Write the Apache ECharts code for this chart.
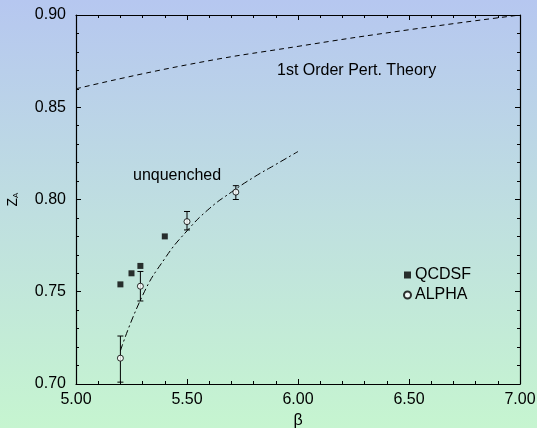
<!DOCTYPE html>
<html>
<head>
<meta charset="utf-8">
<script src="https://cdn.jsdelivr.net/npm/echarts@6/dist/echarts.min.js"></script>
<style>
  html, body { margin: 0; padding: 0; }
  #chart { width: 537px; height: 428px; }
</style>
</head>
<body>
<div id="chart"></div>
<script>
// data
const qcdsfBeta = [5.20, 5.25, 5.29, 5.40];
const qcdsfZ = [0.754, 0.760, 0.764, 0.780];

const alphaBeta = [5.20, 5.29, 5.50, 5.72];
const alphaZ = [0.714, 0.753, 0.788, 0.804];
const alphaLo = [0.701, 0.745, 0.7835, 0.800];
const alphaHi = [0.726, 0.761, 0.7935, 0.8075];

const pertBeta = [5.0, 5.5, 6.0, 6.5, 7.0];
const pertZ = [0.860, 0.873, 0.883, 0.892, 0.900];

const unqBeta = [5.2, 5.3, 5.4, 5.5, 5.6, 5.7, 5.8, 5.9, 6.0];
const unqZ = [0.718, 0.748, 0.768, 0.783, 0.795, 0.804, 0.812, 0.819, 0.826];

const zip = (a, b) => a.map((v, i) => [v, b[i]]);

const chart = echarts.init(document.getElementById('chart'));

const font = 'Liberation Sans, Arial, sans-serif';
const fs = 16;
const axisLine = { show: true, onZero: false, lineStyle: { color: '#000', width: 1.2 } };

const xBase = {
  type: 'value', min: 5, max: 7, interval: 0.5,
  axisLine: axisLine,
  axisTick: { inside: true, length: 5, lineStyle: { color: '#000' } },
  minorTick: { show: true, splitNumber: 5, length: 3, lineStyle: { color: '#000' } },
  splitLine: { show: false }
};
const yBase = {
  type: 'value', min: 0.70, max: 0.90, interval: 0.05,
  axisLine: axisLine,
  axisTick: { inside: true, length: 5, lineStyle: { color: '#000' } },
  minorTick: { show: true, splitNumber: 5, length: 3, lineStyle: { color: '#000' } },
  splitLine: { show: false }
};

function errorBar(params, api) {
  const x = api.value(0);
  const lo = api.coord([x, api.value(1)]);
  const hi = api.coord([x, api.value(2)]);
  const w = 3;
  const style = { stroke: '#000', lineWidth: 1 };
  return {
    type: 'group',
    children: [
      { type: 'line', shape: { x1: lo[0], y1: lo[1], x2: hi[0], y2: hi[1] }, style: style },
      { type: 'line', shape: { x1: lo[0] - w, y1: lo[1], x2: lo[0] + w, y2: lo[1] }, style: style },
      { type: 'line', shape: { x1: hi[0] - w, y1: hi[1], x2: hi[0] + w, y2: hi[1] }, style: style }
    ]
  };
}

chart.setOption({
  backgroundColor: new echarts.graphic.LinearGradient(0, 0, 0, 1, [
    { offset: 0, color: '#b6c7f0' },
    { offset: 0.5, color: '#bfdfe0' },
    { offset: 1, color: '#c6f5d0' }
  ]),
  animation: false,
  textStyle: { fontFamily: font },
  grid: { left: 76, right: 17, top: 15, bottom: 44, outerBoundsMode: 'none', containLabel: false },
  legend: {
    orient: 'vertical', left: 398, top: 262, itemGap: 4,
    itemWidth: 7, itemHeight: 7,
    textStyle: { fontSize: fs, color: '#000', fontFamily: font, padding: [0, 0, 0, -1] },
    data: [
      { name: 'QCDSF', icon: 'rect' },
      { name: 'ALPHA', icon: 'circle' }
    ]
  },
  xAxis: [
    Object.assign({}, xBase, {
      position: 'bottom',
      name: 'β', nameLocation: 'middle', nameGap: 29,
      nameTextStyle: { fontSize: fs, color: '#000', fontFamily: font },
      axisLabel: { fontSize: fs, color: '#000', margin: 8, formatter: v => v.toFixed(2), fontFamily: font }
    }),
    Object.assign({}, xBase, { position: 'top', axisLabel: { show: false } })
  ],
  yAxis: [
    Object.assign({}, yBase, {
      position: 'left',
      name: '{z|Z}{a|A}', nameLocation: 'middle', nameGap: 56,
      nameTextStyle: { rich: { z: { fontSize: 14, color: '#000', fontFamily: font }, a: { fontSize: 8, color: '#000', fontFamily: font, verticalAlign: 'bottom', padding: [6, 0, 0, 0] } } },
      axisLabel: { fontSize: fs, color: '#000', margin: 10, formatter: v => v.toFixed(2), fontFamily: font }
    }),
    Object.assign({}, yBase, { position: 'right', axisLabel: { show: false } })
  ],
  series: [
    {
      name: '1st Order Pert. Theory', type: 'line', smooth: true, symbol: 'none',
      data: zip(pertBeta, pertZ),
      lineStyle: { color: '#000', width: 1, type: [5, 4] },
      silent: true
    },
    {
      name: 'unquenched', type: 'line', smooth: true, symbol: 'none',
      data: zip(unqBeta, unqZ),
      lineStyle: { color: '#000', width: 1, type: [7, 3, 2, 3] },
      silent: true
    },
    {
      name: 'ALPHA err', type: 'custom', renderItem: errorBar,
      data: alphaBeta.map((b, i) => [b, alphaLo[i], alphaHi[i]]),
      z: 3
    },
    {
      name: 'QCDSF', type: 'scatter', symbol: 'rect', symbolSize: 6,
      itemStyle: { color: '#000' },
      data: zip(qcdsfBeta, qcdsfZ), z: 4
    },
    {
      name: 'ALPHA', type: 'scatter', symbol: 'circle', symbolSize: 6,
      itemStyle: { color: '#fff', borderColor: '#000', borderWidth: 1 },
      data: zip(alphaBeta, alphaZ), z: 5
    }
  ],
  graphic: [
    { type: 'text', left: 277, top: 63, style: { text: '1st Order Pert. Theory', fontSize: fs, fill: '#000', fontFamily: font } },
    { type: 'text', left: 133, top: 168, style: { text: 'unquenched', fontSize: fs, fill: '#000', fontFamily: font } }
  ]
});
</script>
</body>
</html>
